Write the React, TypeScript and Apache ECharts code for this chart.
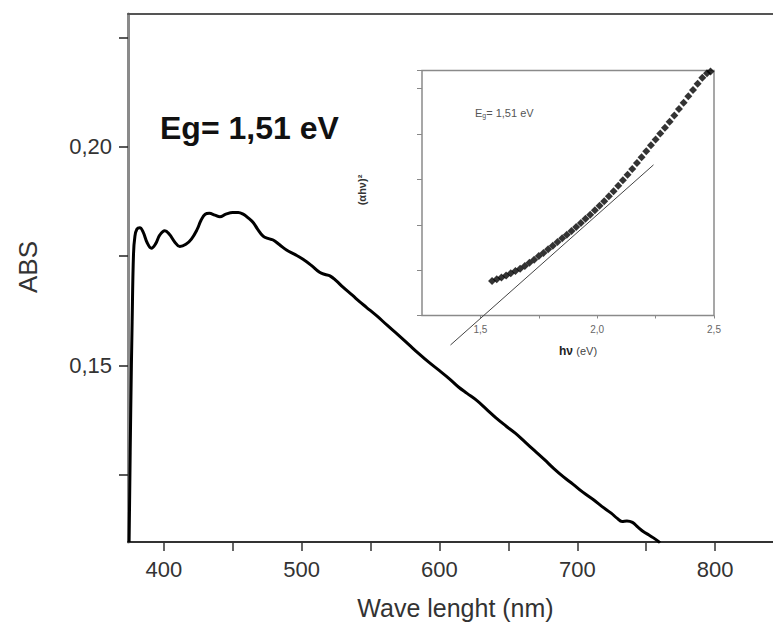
import React, { useEffect, useRef } from "react";
import * as echarts from "echarts";

// Main spectrum: wavelength (nm) vs absorbance
const wavelength = [
  374.8, 376, 377, 378, 379, 380.5, 382.6, 385, 388, 391, 394, 397, 400.7, 404, 408, 411.6,
  416, 420, 424, 427, 430, 433, 437, 440.7, 445, 450, 454, 457.6, 461, 464.8, 468, 472,
  476, 479.3, 484, 489, 495, 501, 507, 513, 517, 520.5, 525, 530, 537, 542, 547, 555,
  562, 570, 578, 585, 592, 600, 607, 614, 620, 627, 634, 641, 648, 655, 662, 669, 676,
  683, 690, 697, 704, 712, 718, 724.6, 729, 732.5, 736, 740, 744, 747.8, 752, 755, 758.6, 760,
];
const absorbance = [
  0.1096, 0.14, 0.16, 0.1755, 0.1795, 0.1812, 0.1815, 0.1805, 0.178, 0.1768, 0.1778, 0.1798,
  0.1808, 0.18, 0.1782, 0.1772, 0.1777, 0.1789, 0.181, 0.1832, 0.1846, 0.1848, 0.1844, 0.184,
  0.1846, 0.185, 0.185, 0.1846, 0.1838, 0.1827, 0.1812, 0.1796, 0.179, 0.1787, 0.1776, 0.1764,
  0.1754, 0.1743, 0.1729, 0.1713, 0.1708, 0.1705, 0.1694, 0.1679, 0.166, 0.1646, 0.1633,
  0.1612, 0.1592, 0.157, 0.1547, 0.1527, 0.1508, 0.1488, 0.147, 0.145, 0.1436, 0.142, 0.14,
  0.138, 0.1362, 0.1345, 0.1325, 0.1305, 0.1285, 0.1264, 0.1245, 0.1228, 0.121, 0.1192,
  0.1177, 0.1162, 0.115, 0.1143, 0.1144, 0.1141, 0.113, 0.112, 0.1112, 0.1106, 0.1098, 0.1094,
];

// Inset: Tauc plot
const photonEnergy = [
  1.55, 1.57, 1.59, 1.61, 1.63, 1.65, 1.67, 1.69, 1.71, 1.73, 1.75, 1.77, 1.79, 1.81, 1.83,
  1.85, 1.87, 1.89, 1.91, 1.93, 1.95, 1.97, 1.99, 2.01, 2.03, 2.05, 2.07, 2.09, 2.11, 2.13,
  2.15, 2.17, 2.19, 2.21, 2.23, 2.25, 2.27, 2.29, 2.31, 2.33, 2.35, 2.37, 2.39, 2.41, 2.43,
  2.45, 2.47, 2.485,
];
const taucValue = [
  0.76, 0.8, 0.84, 0.88, 0.93, 0.98, 1.03, 1.09, 1.16, 1.23, 1.31, 1.38, 1.46, 1.54, 1.62,
  1.7, 1.78, 1.86, 1.95, 2.04, 2.13, 2.22, 2.32, 2.42, 2.52, 2.63, 2.74, 2.86, 2.98, 3.1,
  3.23, 3.36, 3.49, 3.62, 3.75, 3.88, 4.01, 4.14, 4.27, 4.41, 4.55, 4.69, 4.83, 4.97, 5.11,
  5.24, 5.34, 5.38,
];
const tangentX = [1.372, 2.241];
const tangentY = [-0.65, 3.32];

// Ticks and labels
const mainXTicks = [400, 450, 500, 550, 600, 650, 700, 750, 800];
const mainXLabels = [400, 500, 600, 700, 800];
const mainYTicks = [0.125, 0.15, 0.175, 0.2, 0.225];
const mainYLabels = [0.15, 0.2];
const insetXTicks = [1.5, 1.75, 2, 2.25, 2.5];
const insetXLabels = [1.5, 2, 2.5];

const FONT = "'Liberation Sans', Arial, Helvetica, sans-serif";
const comma = (v: number, d: number) => v.toFixed(d).replace(".", ",");

export default function App() {
  const ref = useRef<HTMLDivElement>(null);
  useEffect(() => {
    if (!ref.current) return;
    const chart = echarts.init(ref.current, null, { renderer: "svg" });
    const spectrum = wavelength.map((w, i) => [w, absorbance[i]]);
    const tauc = photonEnergy.map((e, i) => [e, taucValue[i]]);
    const tangent = tangentX.map((x, i) => [x, tangentY[i]]);
    chart.setOption({
      animation: false,
      backgroundColor: "#fff",
      textStyle: { fontFamily: FONT },
      grid: [
        { left: 128, top: 14, right: 0, bottom: 81 },
        {
          left: 422, top: 70.5, width: 292, height: 245, show: true,
          backgroundColor: "#fff", borderColor: "#8a8a8a", borderWidth: 1.5, z: 5,
        },
      ],
      xAxis: [
        {
          type: "value", gridIndex: 0, min: 374, max: 842, position: "bottom",
          splitLine: { show: false },
          axisLine: { show: true, onZero: false, lineStyle: { color: "#333", width: 2 } },
          axisTick: { show: true, customValues: mainXTicks, length: 9, lineStyle: { color: "#333", width: 1.5 } },
          axisLabel: {
            show: true, customValues: mainXLabels, margin: 16, fontSize: 22, color: "#333",
            fontFamily: FONT, formatter: (v: number) => String(Math.round(v)),
          },
          name: "Wave lenght (nm)", nameLocation: "middle", nameGap: 53,
          nameTextStyle: { fontSize: 25, color: "#333", fontFamily: FONT, padding: [0, 0, 0, 10] },
        },
        {
          type: "value", gridIndex: 0, min: 374, max: 842, position: "top",
          splitLine: { show: false },
          axisLine: { show: true, onZero: false, lineStyle: { color: "#555", width: 2 } },
          axisTick: { show: false }, axisLabel: { show: false },
        },
        {
          type: "value", gridIndex: 1, min: 1.25, max: 2.5, position: "bottom",
          splitLine: { show: false },
          axisLine: { show: false, onZero: false },
          axisTick: { show: true, customValues: insetXTicks, length: 3, lineStyle: { color: "#888", width: 1 } },
          axisLabel: {
            show: true, customValues: insetXLabels, margin: 9, fontSize: 10, color: "#666",
            fontFamily: FONT, formatter: (v: number) => comma(v, 1),
          },
        },
      ],
      yAxis: [
        {
          type: "value", gridIndex: 0, min: 0.1096, max: 0.2304, position: "left",
          splitLine: { show: false },
          axisLine: { show: true, onZero: false, lineStyle: { color: "#8a8a8a", width: 3 } },
          axisTick: { show: true, customValues: mainYTicks, length: 9, lineStyle: { color: "#222", width: 1.5 } },
          axisLabel: {
            show: true, customValues: mainYLabels, margin: 16, fontSize: 22, color: "#333",
            fontFamily: FONT, formatter: (v: number) => comma(v, 2),
          },
        },
        {
          type: "value", gridIndex: 1, min: 0, max: 5.4, interval: 1, position: "left",
          splitLine: { show: false },
          axisLine: { show: false, onZero: false },
          axisTick: { show: true, length: 5, lineStyle: { color: "#888", width: 1 } },
          axisLabel: { show: false },
        },
      ],
      series: [
        {
          type: "line", xAxisIndex: 0, yAxisIndex: 0, data: spectrum, smooth: 0.4,
          showSymbol: false, symbol: "none", lineStyle: { color: "#000", width: 3 }, z: 3,
        },
        {
          type: "scatter", xAxisIndex: 2, yAxisIndex: 1, data: tauc, symbol: "diamond",
          symbolSize: 8, itemStyle: { color: "#000" }, z: 10,
        },
        {
          type: "line", xAxisIndex: 2, yAxisIndex: 1, data: tangent, clip: false,
          symbol: "none", lineStyle: { color: "#444", width: 1 }, z: 9,
        },
      ],
      graphic: [
        {
          type: "text", x: 28, y: 267, rotation: Math.PI / 2, z: 20,
          style: {
            text: "ABS", font: `26px ${FONT}`, fill: "#333",
            align: "center", verticalAlign: "middle",
          },
        },
        {
          type: "text", left: 160, top: 112, z: 20,
          style: { text: "Eg= 1,51 eV", font: `bold 32px ${FONT}`, fill: "#111" },
        },
        {
          type: "text", left: 475, top: 107, z: 20,
          style: {
            text: "{n|E}{s|g}{n|= 1,51 eV}",
            rich: {
              n: { fontSize: 11, fontFamily: FONT, fill: "#555" },
              s: { fontSize: 7, fontFamily: FONT, fill: "#555", padding: [6, 0, 0, 0] },
            },
          },
        },
        {
          type: "text", x: 362, y: 190, rotation: Math.PI / 2, z: 20,
          style: {
            text: "(αhν)²", font: `bold 11px ${FONT}`, fill: "#333",
            align: "center", verticalAlign: "middle",
          },
        },
        {
          type: "text", x: 578, y: 351, z: 20,
          style: {
            text: "{b|hν} {n|(eV)}", align: "center", verticalAlign: "middle",
            rich: {
              b: { fontSize: 12, fontWeight: "bold", fontFamily: FONT, fill: "#222" },
              n: { fontSize: 11, fontFamily: FONT, fill: "#444" },
            },
          },
        },
      ],
    });
    return () => chart.dispose();
  }, []);
  return (
    <div
      ref={ref}
      style={{ position: "absolute", left: 0, top: 0, width: 773, height: 625 }}
    />
  );
}
